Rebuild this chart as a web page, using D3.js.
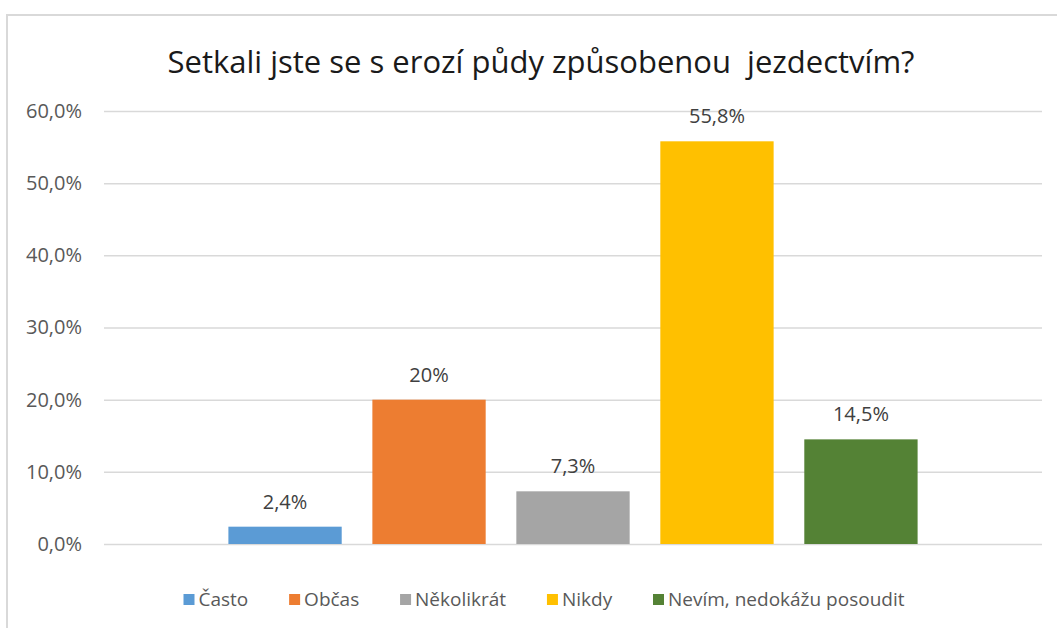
<!DOCTYPE html>
<html>
<head>
<meta charset="utf-8">
<script src="https://cdn.jsdelivr.net/npm/d3@7"></script>
<style>
  body { margin: 0; background: #fff; }
  svg { display: block; font-family: "Open Sans", sans-serif; }
</style>
</head>
<body>
<svg id="chart" width="1057" height="628"></svg>
<script>
'use strict';
// data
const categories = ["Často", "Občas", "Několikrát", "Nikdy", "Nevím, nedokážu posoudit"];
const values = [2.4, 20, 7.3, 55.8, 14.5];
const valueLabels = ["2,4%", "20%", "7,3%", "55,8%", "14,5%"];
const colors = ["#5b9bd5", "#ed7d31", "#a5a5a5", "#ffc000", "#548235"];
const yTicks = [0, 10, 20, 30, 40, 50, 60];
const title = "Setkali jste se s erozí půdy způsobenou  jezdectvím?";

const svg = d3.select("#chart");
const plot = { left: 104, right: 1042, top: 111, bottom: 544 };
const centerX = 541;

// chart frame (only top and left edges are visible in the crop)
svg.append("line").attr("x1", 7).attr("x2", 1057).attr("y1", 15).attr("y2", 15)
  .attr("stroke", "#d9d9d9").attr("stroke-width", 2);
svg.append("line").attr("x1", 7).attr("x2", 7).attr("y1", 14).attr("y2", 628)
  .attr("stroke", "#d9d9d9").attr("stroke-width", 2);

const y = d3.scaleLinear().domain([0, 60]).range([plot.bottom, plot.top]);
const x = d3.scaleBand().domain(categories).range([plot.left, plot.right])
  .paddingInner(0.213).paddingOuter(0.864);

// gridlines + tick labels
const yAxis = d3.axisLeft(y).tickValues(yTicks)
  .tickSize(-(plot.right - plot.left)).tickPadding(22)
  .tickFormat(d => d.toFixed(1).replace(".", ",") + "%");
const gy = svg.append("g").attr("transform", `translate(${plot.left},0)`).call(yAxis);
gy.select(".domain").remove();
gy.selectAll(".tick line").attr("stroke", "#d9d9d9").attr("stroke-width", 1.5);
gy.selectAll(".tick text").attr("fill", "#595959").attr("font-size", 20)
  .attr("font-family", "Open Sans, sans-serif");

// bars
svg.append("g").selectAll("rect").data(values).join("rect")
  .attr("x", (d, i) => x(categories[i]))
  .attr("width", x.bandwidth())
  .attr("y", d => y(d))
  .attr("height", d => y(0) - y(d))
  .attr("fill", (d, i) => colors[i]);

// value labels
svg.append("g").selectAll("text").data(values).join("text")
  .attr("x", (d, i) => x(categories[i]) + x.bandwidth() / 2)
  .attr("y", d => y(d) - 18)
  .attr("text-anchor", "middle")
  .attr("font-size", 20)
  .attr("fill", "#404040")
  .text((d, i) => valueLabels[i]);

// title
svg.append("text")
  .attr("x", centerX).attr("y", 73)
  .attr("text-anchor", "middle")
  .attr("font-size", 31)
  .attr("fill", "#1a1a1a")
  .style("white-space", "pre")
  .text(title);

// legend, spread to the width it has in the picture
const legendWidth = 721;
const legend = svg.append("g");
const items = legend.selectAll("g").data(categories).join("g");
items.append("rect").attr("width", 11).attr("height", 11).attr("y", -12)
  .attr("fill", (d, i) => colors[i]);
items.append("text").attr("x", 15).attr("font-size", 19).attr("fill", "#595959")
  .text(d => d);
const widths = [];
items.each(function () { widths.push(15 + this.querySelector("text").getComputedTextLength()); });
const gap = (legendWidth - d3.sum(widths)) / (widths.length - 1);
let pos = 0;
items.each(function (d, i) {
  d3.select(this).attr("transform", `translate(${pos},0)`);
  pos += widths[i] + gap;
});
legend.attr("transform", `translate(${centerX + 3 - legendWidth / 2},606)`);
</script>
</body>
</html>
